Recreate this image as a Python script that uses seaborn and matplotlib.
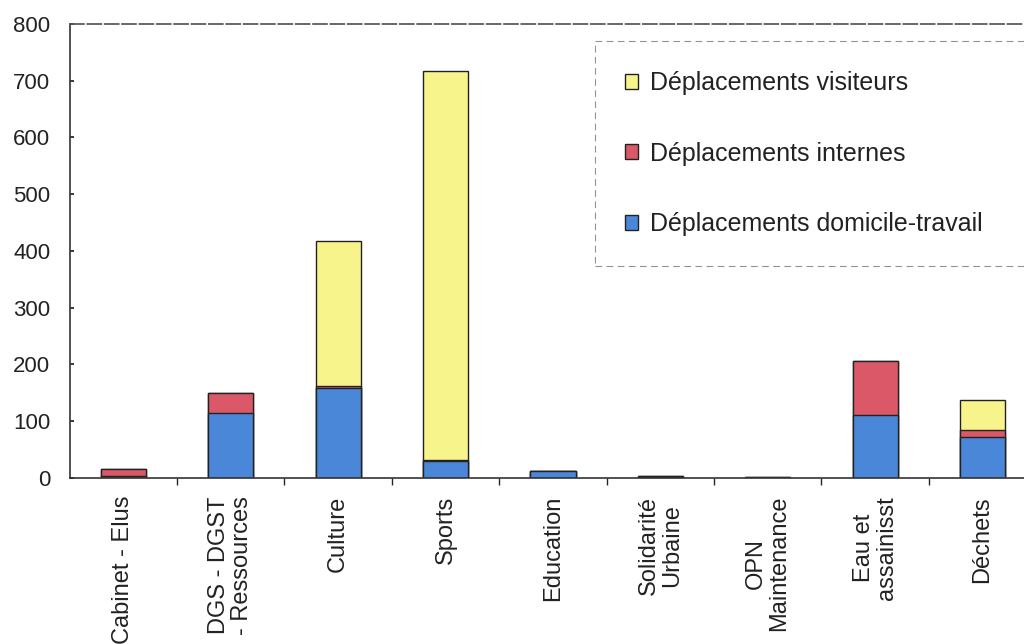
import matplotlib
matplotlib.use("Agg")
import matplotlib.pyplot as plt
import matplotlib.patches as mpatches
import numpy as np
import pandas as pd
import seaborn as sns

categories = ["Cabinet - Elus", "DGS - DGST\n- Ressources", "Culture", "Sports",
              "Education", "Solidarité\nUrbaine", "OPN\nMaintenance",
              "Eau et\nassainisst", "Déchets"]
domicile_travail = [3, 114, 158, 30, 12, 2, 0, 110, 72]
internes = [12, 36, 3, 2, 0, 1, 1, 96, 12]
visiteurs = [0, 0, 256, 685, 0, 0, 0, 0, 54]

series_names = ["Déplacements visiteurs", "Déplacements internes",
                "Déplacements domicile-travail"]
colors = {"Déplacements visiteurs": "#f8f48c",
          "Déplacements internes": "#da5868",
          "Déplacements domicile-travail": "#4a87d9"}

sns.set_theme(style="white")
plt.rcParams["font.family"] = ["Liberation Sans", "DejaVu Sans"]

df = pd.DataFrame({"cat": categories,
                   "dt": domicile_travail,
                   "int": internes,
                   "vis": visiteurs})
df["lvl2"] = df["dt"] + df["int"]
df["lvl3"] = df["lvl2"] + df["vis"]

fig = plt.figure(figsize=(10.24, 6.44), dpi=100)
ax = fig.add_axes([0.068, 0.258, 0.944, 0.705])

# stacked bars drawn as overlapping cumulative totals
for col, name in [("lvl3", series_names[0]), ("lvl2", series_names[1]), ("dt", series_names[2])]:
    sns.barplot(data=df, x="cat", y=col, color=colors[name], width=0.42,
                edgecolor="#222222", linewidth=1.0, saturation=1, ax=ax, zorder=2)

ax.set_xlim(-0.5, 8.5)
ax.set_ylim(0, 800)
ax.set_yticks(np.arange(0, 801, 100))
ax.tick_params(axis="y", labelsize=16, length=3, direction="in", left=True, pad=14,
               colors="#222222")
ax.set_xticks(range(len(categories)))
ax.set_xticklabels(categories, rotation=90, fontsize=17, va="top", ha="center",
                   linespacing=1.05, color="#222222")
ax.tick_params(axis="x", length=0, pad=13)
ax.set_xticks(np.arange(0.5, 8.5, 1), minor=True)
ax.tick_params(axis="x", which="minor", length=5, direction="out", bottom=True)
ax.set_xlabel("")
ax.set_ylabel("")

for s in ["left", "bottom"]:
    ax.spines[s].set_color("#333333")
    ax.spines[s].set_linewidth(1.2)
ax.spines["top"].set_color("#555555")
ax.spines["top"].set_linestyle((0, (8, 2)))
ax.spines["right"].set_visible(False)

handles = [mpatches.Patch(facecolor=colors[n], edgecolor="#222222", linewidth=1.0, label=n)
           for n in series_names]
leg = ax.legend(handles=handles, loc="upper left", bbox_to_anchor=(0.543, 0, 0.468, 0.962),
                mode="expand", fontsize=18, frameon=True, fancybox=False, labelspacing=1.86,
                handlelength=0.52, handleheight=0.52, handletextpad=0.5,
                borderpad=1.2, borderaxespad=0)
for t in leg.get_texts():
    t.set_color("#222222")
leg.get_frame().set_edgecolor("#777777")
leg.get_frame().set_linestyle((0, (6, 4)))
leg.get_frame().set_linewidth(0.8)

fig.savefig("out.png", dpi=100)
